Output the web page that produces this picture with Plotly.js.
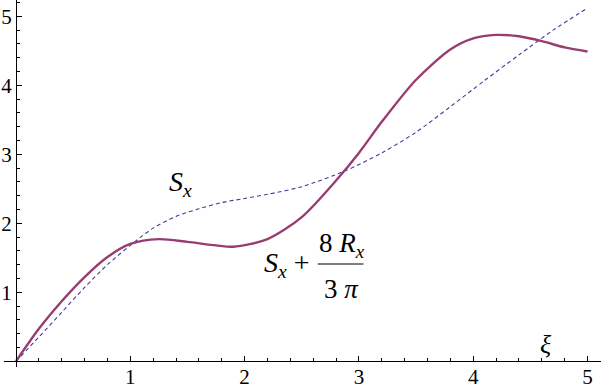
<!DOCTYPE html>
<html>
<head>
<meta charset="utf-8">
<script src="https://cdn.plot.ly/plotly-3.0.1.min.js"></script>
<style>
  html, body { margin: 0; padding: 0; background: #fff; }
  #chart { width: 601px; height: 389px; }
</style>
</head>
<body>
<div id="chart"></div>
<script>
// values
const xiS = [0, 0.2, 0.4, 0.6, 0.8, 1.0, 1.25, 1.5, 1.75, 1.9, 2.2, 2.5, 2.8, 3.0, 3.2, 3.5, 3.8, 4.0, 4.2, 4.4, 4.6, 4.8, 5.0];
const sxPlusR = [0, 0.47, 0.87, 1.22, 1.51, 1.70, 1.77, 1.73, 1.68, 1.66, 1.77, 2.09, 2.62, 3.02, 3.47, 4.08, 4.52, 4.68, 4.73, 4.71, 4.64, 4.55, 4.49];

const xiD = [0, 0.2, 0.4, 0.6, 0.8, 1.0, 1.2, 1.4, 1.6, 1.8, 2.0, 2.2, 2.5, 2.88, 3.2, 3.5, 3.8, 4.1, 4.4, 4.7, 5.0];
const sx = [0, 0.35, 0.71, 1.07, 1.40, 1.68, 1.93, 2.10, 2.21, 2.30, 2.36, 2.42, 2.53, 2.76, 3.02, 3.32, 3.69, 4.07, 4.44, 4.80, 5.12];

const tickVals = [1, 2, 3, 4, 5];
const tickText = ['1', '2', '3', '4', '5'];

const xRange = [-0.105, 5.118];
const yRange = [-0.083, 5.236];

const serif = '"Liberation Serif", "Times New Roman", serif';

const traces = [
    {
        x: xiD, y: sx,
        type: 'scatter', mode: 'lines',
        line: { color: '#3d3d99', width: 1.1, dash: '4px,3px', shape: 'spline', smoothing: 0.8 },
        hoverinfo: 'skip'
    },
    {
        x: xiS, y: sxPlusR,
        type: 'scatter', mode: 'lines',
        line: { color: '#993d71', width: 2.4, shape: 'spline', smoothing: 0.8 },
        hoverinfo: 'skip'
    }
];

function axisBase(range) {
    return {
        range: range,
        showgrid: false,
        zeroline: false,
        showline: true,
        linecolor: '#000',
        linewidth: 1,
        ticks: 'inside',
        ticklen: 5,
        tickwidth: 1,
        tickcolor: '#000',
        tickmode: 'array',
        tickvals: tickVals,
        ticktext: tickText,
        tickfont: { family: serif, size: 21, color: '#000' },
        minor: { tickmode: 'linear', tick0: 0, dtick: 0.2, ticks: 'inside', ticklen: 3, tickwidth: 1, tickcolor: '#000' },
        fixedrange: true
    };
}

const layout = {
    width: 601,
    height: 389,
    margin: { l: 4, r: 0, t: 0, b: 22 },
    paper_bgcolor: '#fff',
    plot_bgcolor: '#fff',
    showlegend: false,
    xaxis: {
        ...axisBase(xRange),
        anchor: 'free',
        position: (0 - yRange[0]) / (yRange[1] - yRange[0]),
        ticklabelstandoff: -3
    },
    yaxis: {
        ...axisBase(yRange),
        anchor: 'free',
        position: (0 - xRange[0]) / (xRange[1] - xRange[0])
    },
    shapes: [
        // fraction bar of the 8 Rx / 3 pi label
        { type: 'line', layer: 'above', xref: 'x', yref: 'y', x0: 2.64, x1: 3.04, y0: 1.41, y1: 1.41, line: { color: '#000', width: 1.2 } }
    ],
    annotations: [
        { x: 1.44, y: 2.58, xref: 'x', yref: 'y', showarrow: false, text: '<i>S</i><sub><i>x</i></sub>', font: { family: serif, size: 28, color: '#000' } },
        { x: 2.37, y: 1.40, xref: 'x', yref: 'y', showarrow: false, text: '<i>S</i><sub><i>x</i></sub> +', font: { family: serif, size: 28, color: '#000' } },
        { x: 2.85, y: 1.69, xref: 'x', yref: 'y', showarrow: false, text: '8 <i>R</i><sub><i>x</i></sub>', font: { family: serif, size: 27, color: '#000' } },
        { x: 2.85, y: 1.05, xref: 'x', yref: 'y', showarrow: false, text: '3 <i>π</i>', font: { family: serif, size: 27, color: '#000' } },
        { x: 4.64, y: 0.24, xref: 'x', yref: 'y', showarrow: false, text: '<i>ξ</i>', font: { family: serif, size: 26, color: '#000' } }
    ]
};

Plotly.newPlot('chart', traces, layout, { displayModeBar: false, staticPlot: true });
</script>
</body>
</html>
